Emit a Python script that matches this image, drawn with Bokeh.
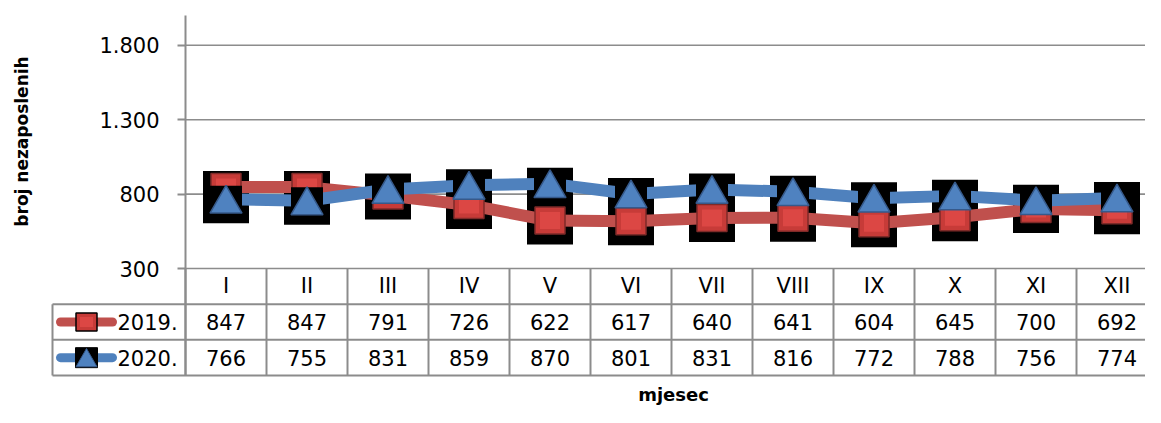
import math
from bokeh.plotting import figure
from bokeh.models import Range1d, LinearAxis, FixedTicker, Label, Grid
from bokeh.core.properties import value
from bokeh.embed import file_html
from bokeh.resources import INLINE

# ---------------- data ----------------
months = ["I", "II", "III", "IV", "V", "VI", "VII", "VIII", "IX", "X", "XI", "XII"]
series_names = ["2019.", "2020."]
values_2019 = [847, 847, 791, 726, 622, 617, 640, 641, 604, 645, 700, 692]
values_2020 = [766, 755, 831, 859, 870, 801, 831, 816, 772, 788, 756, 774]
y_ticks = [300, 800, 1300, 1800]
y_tick_labels = ["300", "800", "1.300", "1.800"]
y_min, y_max = 300, 2000
y_title = "broj nezaposlenih"
x_title = "mjesec"

# ---------------- layout (figure pixels) ----------------
W, H = 1145, 407
AXIS_X = 185          # pixel of the value axis / first column edge
COL_W = 81.0          # width of one month column
PX_YMAX = 15          # pixel of y_max (top of axis)
PX_YMIN = 268         # pixel of y_min (top of the data table)
ROW_H = 107 / 3.0     # height of one table row
TABLE_L = 52          # left edge of the legend cells
TABLE_BOTTOM_PX = 375

x0 = -0.5 - AXIS_X / COL_W
x1 = x0 + W / COL_W
upp = (y_max - y_min) / (PX_YMIN - PX_YMAX)
y_start = y_min - (H - PX_YMIN) * upp
y_end = y_max + PX_YMAX * upp
t_start = (H - PX_YMIN) / ROW_H
t_end = (0 - PX_YMIN) / ROW_H


def px2x(px):
    return x0 + px / COL_W


def px2t(py):
    return (py - PX_YMIN) / ROW_H


GRID = "#8C8C8C"
RED_LINE = "#C0504D"
BLUE_LINE = "#4F81BD"
RED_FILL = "#C73B38"
RED_INNER = "#DC4744"
RED_EDGE = "#7E2A28"
BLUE_FILL = "#4F82C0"
BLUE_EDGE = "#36598A"
FONT = "DejaVu Sans"
FS = "21px"

p = figure(width=W, height=H, x_range=Range1d(x0, x1), y_range=Range1d(y_start, y_end),
           output_backend="svg", toolbar_location=None,
           x_axis_location=None, y_axis_location=None,
           min_border_left=0, min_border_right=0, min_border_top=0, min_border_bottom=0)
p.outline_line_color = None
p.background_fill_color = "white"
p.border_fill_color = "white"
for g in p.select(type=Grid):
    g.visible = False
p.extra_y_ranges = {"table": Range1d(t_start, t_end)}

n = len(months)
xs = list(range(n))

# value axis at the left edge of the first month column
yaxis = LinearAxis(fixed_location=-0.5, ticker=FixedTicker(ticks=y_ticks),
                   major_label_overrides={t: l for t, l in zip(y_ticks, y_tick_labels)},
                   bounds=(y_min - (TABLE_BOTTOM_PX - PX_YMIN) * upp, y_max))
yaxis.axis_line_color = GRID
yaxis.axis_line_width = 2
yaxis.major_tick_line_color = GRID
yaxis.major_tick_line_width = 2
yaxis.major_tick_out = 8
yaxis.major_tick_in = 0
yaxis.minor_tick_line_color = None
yaxis.major_label_standoff = 18
yaxis.major_label_text_font = FONT
yaxis.major_label_text_font_size = FS
yaxis.major_label_text_color = "black"
p.add_layout(yaxis, "left")

# horizontal grid lines
p.segment(x0=[-0.5] * len(y_ticks), y0=y_ticks, x1=[x1 + 1] * len(y_ticks), y1=y_ticks,
          line_color=GRID, line_width=1.6)

# data table lines
rows = [1, 2, 3]
p.segment(x0=[px2x(TABLE_L)] * 3, y0=rows, x1=[x1 + 1] * 3, y1=rows,
          line_color=GRID, line_width=2, y_range_name="table")
col_edges = [i - 0.5 for i in range(n + 1)]
p.segment(x0=col_edges, y0=[0] * len(col_edges), x1=col_edges, y1=[3] * len(col_edges),
          line_color=GRID, line_width=2, y_range_name="table")
p.segment(x0=[px2x(TABLE_L)], y0=[1], x1=[px2x(TABLE_L)], y1=[3],
          line_color=GRID, line_width=2, y_range_name="table")

# table texts
p.text(x=xs, y=[0.5] * n, text=months, text_font=value(FONT), text_font_size=value(FS),
       text_align="center", text_baseline="middle", text_color="black", y_range_name="table")
p.text(x=xs, y=[1.5] * n, text=[str(v) for v in values_2019], text_font=value(FONT),
       text_font_size=value(FS), text_align="center", text_baseline="middle",
       text_color="black", y_range_name="table")
p.text(x=xs, y=[2.5] * n, text=[str(v) for v in values_2020], text_font=value(FONT),
       text_font_size=value(FS), text_align="center", text_baseline="middle",
       text_color="black", y_range_name="table")

# legend keys in the table
p.text(x=[px2x(117)] * 2, y=[1.5, 2.5], text=series_names, text_font=value(FONT),
       text_font_size=value(FS), text_align="left", text_baseline="middle",
       text_color="black", y_range_name="table")
p.segment(x0=[px2x(60)], y0=[1.5], x1=[px2x(112)], y1=[1.5], line_color=RED_LINE,
          line_width=9, line_cap="round", y_range_name="table")
p.segment(x0=[px2x(60)], y0=[2.5], x1=[px2x(112)], y1=[2.5], line_color=BLUE_LINE,
          line_width=9, line_cap="round", y_range_name="table")
p.rect(x=[px2x(86)], y=[1.5], width=21, height=18, width_units="screen", height_units="screen",
       fill_color=RED_FILL, line_color="black", line_width=1.5, y_range_name="table")
p.rect(x=[px2x(86)], y=[1.5], width=13, height=10, width_units="screen", height_units="screen",
       fill_color=RED_INNER, line_color=None, y_range_name="table")
p.rect(x=[px2x(86)], y=[2.5], width=22, height=20, width_units="screen", height_units="screen",
       fill_color="black", line_color="black", y_range_name="table")
p.scatter(x=[px2x(86)], y=[2.5 + 3.0 / ROW_H], marker="triangle", size=21,
          fill_color=BLUE_FILL, line_color=BLUE_EDGE, line_width=1, y_range_name="table")

# black marker backgrounds
box_dy = 4 * upp
p.rect(x=xs, y=[v - box_dy for v in values_2019], width=46, height=40,
       width_units="screen", height_units="screen", fill_color="black", line_color=None)
p.rect(x=xs, y=[v - box_dy for v in values_2020], width=46, height=40,
       width_units="screen", height_units="screen", fill_color="black", line_color=None)

# 2019 series
p.line(x=xs, y=values_2019, line_color=RED_LINE, line_width=12)
p.rect(x=xs, y=values_2019, width=30, height=27, width_units="screen", height_units="screen",
       fill_color=RED_FILL, line_color=RED_EDGE, line_width=1.5)
p.rect(x=xs, y=values_2019, width=20, height=17, width_units="screen", height_units="screen",
       fill_color=RED_INNER, line_color=None)

# 2020 series
p.line(x=xs, y=values_2020, line_color=BLUE_LINE, line_width=12)
p.rect(x=xs, y=values_2020, width=32, height=27, width_units="screen", height_units="screen",
       fill_color="black", line_color=None)
tri_dy = 32 * 0.866 / 6 * upp
p.scatter(x=xs, y=[v - tri_dy for v in values_2020], marker="triangle", size=32,
          fill_color=BLUE_FILL, line_color=BLUE_EDGE, line_width=1.5)

# axis titles
p.add_layout(Label(x=px2x(21), y=px2t(141), y_range_name="table", text=y_title,
                   angle=math.pi / 2, text_align="center", text_baseline="middle",
                   text_font=FONT, text_font_size="17px", text_font_style="bold",
                   text_color="black"))
p.add_layout(Label(x=px2x(673), y=px2t(394), y_range_name="table", text=x_title,
                   text_align="center", text_baseline="alphabetic",
                   text_font=FONT, text_font_size="18px", text_font_style="bold",
                   text_color="black"))

open("out.html", "w").write(file_html(p, INLINE))
